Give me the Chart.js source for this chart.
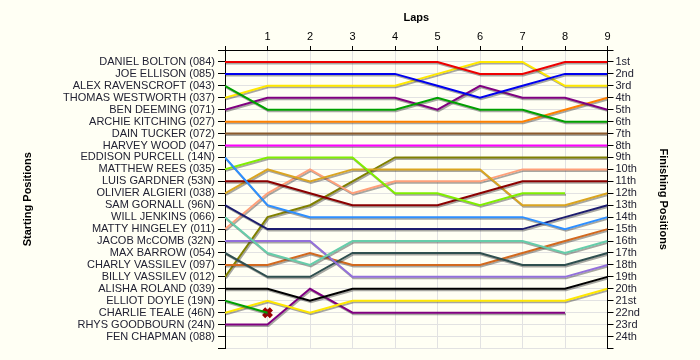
<!DOCTYPE html>
<html>
<head>
<meta charset="utf-8">
<script src="https://cdn.jsdelivr.net/npm/chart.js@4/dist/chart.umd.min.js"></script>
<style>
  html, body { margin: 0; padding: 0; background: #fffff4; }
  #wrap { width: 700px; height: 360px; }
</style>
</head>
<body>
<div id="wrap"><canvas id="lapChart"></canvas></div>
<script>
// Laps (x axis)
const laps = [0, 1, 2, 3, 4, 5, 6, 7, 8, 9];

// Grid order, left axis
const startNames = [
    'DANIEL BOLTON (084)', 'JOE ELLISON (085)', 'ALEX RAVENSCROFT (043)', 'THOMAS WESTWORTH (037)',
    'BEN DEEMING (071)', 'ARCHIE KITCHING (027)', 'DAIN TUCKER (072)', 'HARVEY WOOD (047)',
    'EDDISON PURCELL (14N)', 'MATTHEW REES (035)', 'LUIS GARDNER (53N)', 'OLIVIER ALGIERI (038)',
    'SAM GORNALL (96N)', 'WILL JENKINS (066)', 'MATTY HINGELEY (011)', 'JACOB McCOMB (32N)',
    'MAX BARROW (054)', 'CHARLY VASSILEV (097)', 'BILLY VASSILEV (012)', 'ALISHA ROLAND (039)',
    'ELLIOT DOYLE (19N)', 'CHARLIE TEALE (46N)', 'RHYS GOODBOURN (24N)', 'FEN CHAPMAN (088)'
];

// Right axis
const finishLabels = [
    '1st', '2nd', '3rd', '4th', '5th', '6th', '7th', '8th', '9th', '10th', '11th', '12th',
    '13th', '14th', '15th', '16th', '17th', '18th', '19th', '20th', '21st', '22nd', '23rd', '24th'
];

// Position of each driver at every lap (null = not running), same order as startNames
const lapPositions = [
    [1, 1, 1, 1, 1, 1, 2, 2, 1, 1],
    [2, 2, 2, 2, 2, 3, 4, 3, 2, 2],
    [3, 5, 5, 5, 5, 4, 5, 5, 6, 6],
    [4, 3, 3, 3, 3, 2, 1, 1, 3, 3],
    [5, 4, 4, 4, 4, 5, 3, 4, 4, 5],
    [6, 6, 6, 6, 6, 6, 6, 6, 5, 4],
    [7, 7, 7, 7, 7, 7, 7, 7, 7, 7],
    [8, 8, 8, 8, 8, 8, 8, 8, 8, 8],
    [9, 13, 14, 14, 14, 14, 14, 14, 15, 14],
    [10, 9, 9, 9, 12, 12, 13, 12, 12, null],
    [11, 11, 12, 13, 13, 13, 12, 11, 11, 11],
    [12, 10, 11, 10, 10, 10, 10, 13, 13, 12],
    [13, 15, 15, 15, 15, 15, 15, 15, 14, 13],
    [14, 17, 18, 16, 16, 16, 16, 16, 17, 16],
    [15, 12, 10, 12, 11, 11, 11, 10, 10, 10],
    [16, 16, 16, 19, 19, 19, 19, 19, 19, 18],
    [17, 19, 19, 17, 17, 17, 17, 18, 18, 17],
    [18, 18, 17, 18, 18, 18, 18, 17, 16, 15],
    [19, 14, 13, 11, 9, 9, 9, 9, 9, 9],
    [20, 20, 21, 20, 20, 20, 20, 20, 20, 19],
    [21, 22, null, null, null, null, null, null, null, null],
    [22, 21, 22, 21, 21, 21, 21, 21, 21, 20],
    [23, 23, 20, 22, 22, 22, 22, 22, 22, null],
    [null, null, null, null, null, null, null, null, null, null]
];

const lineColors = [
    '#ee0000', '#0000ee', '#00a000', '#ffe800', '#800080', '#ff8000', '#8b5a2b', '#ff00ff',
    '#2e8fff', '#80ee00', '#8b0000', '#daa520', '#1c1c6e', '#66cdaa', '#ffa07a', '#9370db',
    '#2f4f4f', '#d2691e', '#808000', '#000000', '#00a000', '#ffe800', '#800080', '#999999'
];

// Retirement marker (ELLIOT DOYLE)
const retiredLap = [1];
const retiredPos = [22];

const yTicks = Array.from({ length: 26 }, (_, i) => i);

const datasets = lapPositions.map(function (row, i) {
    return {
        type: 'line',
        label: startNames[i],
        data: laps.map(lap => ({ x: lap, y: row[lap] })),
        borderColor: lineColors[i],
        borderWidth: 2,
        pointRadius: 0,
        tension: 0,
        spanGaps: false,
        fill: false
    };
});

const retiredPoints = retiredLap.map((lap, i) => ({ x: lap, y: retiredPos[i] }));
datasets.push({
    type: 'scatter', label: 'retired-outline', data: retiredPoints,
    pointStyle: 'crossRot', pointRadius: 5.5, pointBorderWidth: 4.5,
    borderColor: '#9a0000', backgroundColor: '#9a0000', noShadow: true
});
datasets.push({
    type: 'scatter', label: 'retired', data: retiredPoints,
    pointStyle: 'crossRot', pointRadius: 5, pointBorderWidth: 2.8,
    borderColor: '#ff2020', backgroundColor: '#ff2020', noShadow: true
});

// Grey drop shadow under each line
const shadowPlugin = {
    id: 'lineShadow',
    beforeDatasetDraw(chart, args) {
        const ctx = chart.ctx;
        ctx.save();
        if (!chart.data.datasets[args.index].noShadow) {
            ctx.shadowColor = 'rgba(60, 60, 60, 0.45)';
            ctx.shadowOffsetX = 1;
            ctx.shadowOffsetY = 1.5;
            ctx.shadowBlur = 0;
        }
    },
    afterDatasetDraw(chart) {
        chart.ctx.restore();
    }
};

const bgPlugin = {
    id: 'bg',
    beforeDraw(chart) {
        const ctx = chart.ctx;
        ctx.save();
        ctx.fillStyle = '#fffff4';
        ctx.fillRect(0, 0, chart.width, chart.height);
        ctx.restore();
    }
};

const tickFont = { family: '"Liberation Sans", Arial, sans-serif', size: 11 };
const titleFont = { family: '"Liberation Sans", Arial, sans-serif', size: 11, weight: 'bold' };
const gridColor = '#e2e2e2';

new Chart(document.getElementById('lapChart'), {
    data: { datasets: datasets },
    options: {
        responsive: true,
        maintainAspectRatio: false,
        animation: false,
        layout: { padding: { left: 0, right: 0, top: 0, bottom: 11.5 } },
        plugins: { legend: { display: false }, tooltip: { enabled: false } },
        scales: {
            x: {
                type: 'linear',
                position: 'top',
                min: 0,
                max: 9,
                afterBuildTicks: scale => { scale.ticks = laps.map(v => ({ value: v })); },
                afterFit: scale => { scale.height = 50; },
                ticks: {
                    autoSkip: false,
                    maxRotation: 0,
                    padding: 2,
                    color: '#000',
                    font: tickFont,
                    callback: v => (v === 0 ? '' : String(v))
                },
                grid: { color: gridColor, tickColor: '#000', tickLength: 4 },
                border: { color: '#000', width: 1 },
                title: { display: true, text: 'Laps', color: '#000', font: titleFont, padding: { top: 11.4, bottom: 0 } }
            },
            y: {
                type: 'linear',
                position: 'left',
                reverse: true,
                min: 0,
                max: 25,
                afterBuildTicks: scale => { scale.ticks = yTicks.map(v => ({ value: v })); },
                afterFit: scale => { scale.width = 225; },
                ticks: {
                    autoSkip: false,
                    padding: 3,
                    color: '#222233',
                    font: tickFont,
                    callback: v => startNames[v - 1] || ''
                },
                grid: { color: gridColor, tickColor: '#000', tickLength: 7 },
                border: { color: '#000', width: 1 },
                title: { display: true, text: 'Starting Positions', color: '#000', font: titleFont, padding: { top: 21, bottom: 0 } }
            },
            y2: {
                type: 'linear',
                position: 'right',
                reverse: true,
                min: 0,
                max: 25,
                afterBuildTicks: scale => { scale.ticks = yTicks.map(v => ({ value: v })); },
                afterFit: scale => { scale.width = 92.5; },
                ticks: {
                    autoSkip: false,
                    padding: 2,
                    color: '#222233',
                    font: tickFont,
                    callback: v => finishLabels[v - 1] || ''
                },
                grid: { drawOnChartArea: false, tickColor: '#000', tickLength: 6 },
                border: { color: '#000', width: 1 },
                title: { display: true, text: 'Finishing Positions', color: '#000', font: titleFont, padding: { top: 30, bottom: 0 } }
            }
        }
    },
    plugins: [bgPlugin, shadowPlugin]
});
</script>
</body>
</html>
